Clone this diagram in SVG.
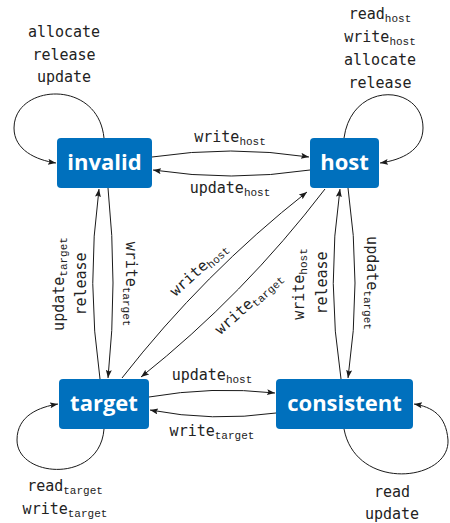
<svg xmlns="http://www.w3.org/2000/svg" width="450" height="523" viewBox="0 0 450 523">
<defs>
<marker id="ah" markerUnits="userSpaceOnUse" markerWidth="10" markerHeight="8" refX="8" refY="3" orient="auto">
<path d="M0,0 L8,3 L0,6 L1.5,3 z" fill="#1a1a1a"/>
</marker>
<style>
.node rect{fill:#0070BD}
.node text{fill:#ffffff;font-family:"Open Sans","DejaVu Sans",sans-serif;font-weight:bold;font-size:22px;text-anchor:middle}
.lbl{font-family:"DejaVu Sans Mono","Liberation Mono",monospace;font-size:15px;fill:#222;text-anchor:middle}
.sub{font-family:"Liberation Mono","DejaVu Sans Mono",monospace;font-size:11px}
#edges path{fill:none;stroke:#1a1a1a;stroke-width:1;marker-end:url(#ah)}
</style>
</defs>
<rect width="450" height="523" fill="#ffffff"/>

<g id="edges">
<!-- self loops -->
<path d="M104,138 C98,78 14,84 14,128 C14,150 36,160 56,163"/>
<path d="M344,138 C352,80 423,84 423,128 C423,150 402,160 380,163"/>
<path d="M104,429 C100,484 17,478 17,440 C17,415 40,407 58,404"/>
<path d="M344,429 C356,492 450,482 448,440 C446,415 432,407 414,404"/>
<!-- invalid <-> host -->
<path d="M152,157 Q231,145 309,157"/>
<path d="M310,170 Q231,182 153,170"/>
<!-- target <-> consistent -->
<path d="M149,397 Q212,386 275,393"/>
<path d="M276,413 Q212,422 150,410"/>
<!-- invalid <-> target -->
<path d="M100,379 Q86,283 99,189"/>
<path d="M108,188 Q118,283 108,378"/>
<!-- host <-> consistent -->
<path d="M341,379 Q326,283 340,189"/>
<path d="M348,188 Q362,283 348,378"/>
<!-- diagonals -->
<path d="M122,378 Q204,273 307,192"/>
<path d="M325,189 Q244,295 141,377"/>
</g>

<g id="invalid" class="node">
<rect x="57" y="138" width="95" height="50" rx="4"/>
<text x="104.5" y="170">invalid</text>
</g>
<g id="host" class="node">
<rect x="310" y="138" width="69" height="50" rx="4"/>
<text x="344.5" y="170">host</text>
</g>
<g id="target" class="node">
<rect x="59" y="379" width="90" height="50" rx="4"/>
<text x="104" y="411">target</text>
</g>
<g id="consistent" class="node">
<rect x="276" y="379" width="137" height="50" rx="4"/>
<text x="344.5" y="411">consistent</text>
</g>

<g id="labels">
<text class="lbl" x="64" y="37">allocate</text>
<text class="lbl" x="64" y="60">release</text>
<text class="lbl" x="64" y="82">update</text>

<text class="lbl" x="380" y="19">read<tspan class="sub" dy="3">host</tspan></text>
<text class="lbl" x="380" y="42">write<tspan class="sub" dy="3">host</tspan></text>
<text class="lbl" x="380" y="65">allocate</text>
<text class="lbl" x="380" y="88">release</text>

<text class="lbl" x="65" y="491">read<tspan class="sub" dy="3">target</tspan></text>
<text class="lbl" x="65" y="514">write<tspan class="sub" dy="3">target</tspan></text>

<text class="lbl" x="392" y="497">read</text>
<text class="lbl" x="392" y="519">update</text>

<text class="lbl" x="230" y="142">write<tspan class="sub" dy="3">host</tspan></text>
<text class="lbl" x="230" y="193">update<tspan class="sub" dy="3">host</tspan></text>

<text class="lbl" x="212" y="380">update<tspan class="sub" dy="3">host</tspan></text>
<text class="lbl" x="212" y="436">write<tspan class="sub" dy="3">target</tspan></text>

<text class="lbl" transform="translate(63.5,284) rotate(-90)">update<tspan class="sub" dy="3">target</tspan></text>
<text class="lbl" transform="translate(85.5,284) rotate(-90)">release</text>
<text class="lbl" transform="translate(126,284) rotate(90)">write<tspan class="sub" dy="3">target</tspan></text>

<text class="lbl" transform="translate(303.5,284) rotate(-90)">write<tspan class="sub" dy="3">host</tspan></text>
<text class="lbl" transform="translate(326.5,283) rotate(-90)">release</text>
<text class="lbl" transform="translate(367,283) rotate(90)">update<tspan class="sub" dy="3">target</tspan></text>

<text class="lbl" transform="translate(202,273) rotate(-42)">write<tspan class="sub" dy="3">host</tspan></text>
<text class="lbl" transform="translate(252,307) rotate(-42)">write<tspan class="sub" dy="3">target</tspan></text>
</g>
</svg>
